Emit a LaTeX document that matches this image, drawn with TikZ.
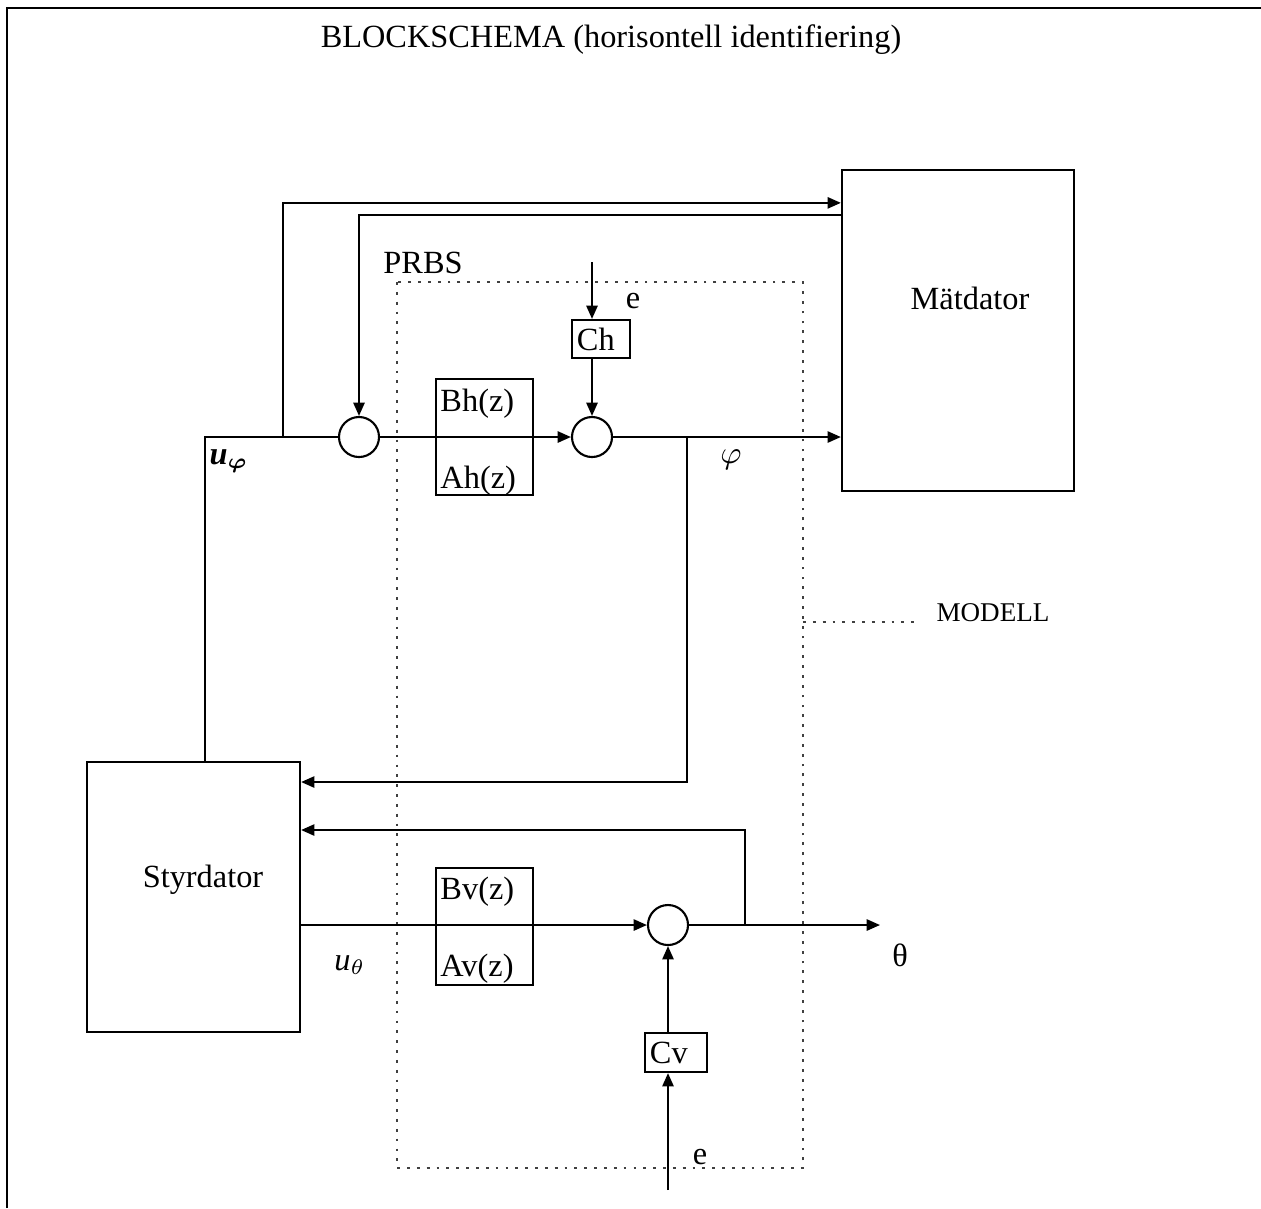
\documentclass[tikz,border=0pt]{standalone}
\usepackage{amsmath}
\usepackage{fontspec}
\setmainfont{Liberation Serif}
\usetikzlibrary{arrows.meta, positioning, calc}

\begin{document}
\begin{tikzpicture}[x=0.01cm, y=-0.01cm, line width=0.6pt,
                    font=\fontsize{9.2}{11}\selectfont,
                    >={Triangle[length=3.8pt,width=3.2pt]},
                    block/.style={draw, inner sep=0pt},
                    smallbox/.style={draw, inner ysep=0pt, inner xsep=0.05cm, minimum height=0.38cm, text width=0.48cm},
                    sumnode/.style={draw, circle, minimum size=0.4cm, inner sep=0pt},
                    lbl/.style={inner sep=1pt}]
                    \useasboundingbox (0,0) rectangle (1261,1208);
                    \draw (7,1208) -- (7,8) -- (1261,8);
                    \node[lbl] (title) at (611,40) {BLOCKSCHEMA (horisontell identifiering)};

                    \draw[dotted, line width=0.8pt, color=black!75] (397,282) rectangle (803,1168);
                    \draw[dotted, line width=0.8pt, color=black!75] (803,622) -- (915,622);
                    \node[lbl, font=\fontsize{7.7}{9}\selectfont] (modell) at (993,613) {MODELL};
                    \node[lbl] (prbs) at (423,263) {PRBS};

                    \node[block, minimum width=2.32cm, minimum height=3.21cm] (mat) at (958,330.5) {};
                    \node[lbl] (matlbl) at (970,298) {Mätdator};
                    \node[block, minimum width=2.13cm, minimum height=2.70cm] (sty) at (193.5,897) {};
                    \node[lbl] (stylbl) at (203,880) {Styrdator};

                    \node[sumnode] (s1) at (359,437) {};
                    \node[sumnode] (s2) at (592,437) {};
                    \node[sumnode] (s3) at (668,925) {};

                    \node[block, minimum width=0.97cm, minimum height=1.16cm] (gh) at (484.5,437) {};
                    \node[lbl, anchor=west] (ghb) at ($(gh.north west)+(1,26)$) {Bh(z)};
                    \node[lbl, anchor=west] (gha) at ($(gh.south west)+(1,-15)$) {Ah(z)};
                    \node[block, minimum width=0.97cm, minimum height=1.17cm] (gv) at (484.5,926.5) {};
                    \node[lbl, anchor=west] (gvb) at ($(gv.north west)+(1,25)$) {Bv(z)};
                    \node[lbl, anchor=west] (gva) at ($(gv.south west)+(1,-17)$) {Av(z)};

                    \node[smallbox] (ch) at (601,339) {Ch};
                    \node[smallbox, minimum height=0.39cm, text width=0.52cm] (cv) at (676,1052.5) {Cv};

                    \coordinate (up) at (205,437);
                    \coordinate (b1) at (283,437);
                    \coordinate (b2) at (687,437);
                    \coordinate (b2d) at (687,782);
                    \coordinate (b3) at (745,925);
                    \coordinate (b3u) at (745,830);
                    \coordinate (e1) at (592,262);
                    \coordinate (e2) at (668,1190);
                    \coordinate (th) at (880,925);

                    \draw (up |- sty.north) -- (up) -- (s1.west);
                    \draw[->] (b1) |- ($(mat.north west)+(0,34)$);
                    \draw[->] ($(mat.north west)+(0,46)$) -| (s1.north);
                    \draw[->] (s1.east) -- (s2.west);
                    \draw[->] (e1) -- (e1 |- ch.north);
                    \draw[->] (ch.south -| s2) -- (s2.north);
                    \draw[->] (s2.east) -- (s2.east -| mat.west);
                    \draw[->] (b2) -- (b2d) -- (b2d -| sty.east);

                    \draw[->] (sty.east |- s3) -- (s3.west);
                    \draw[->] (s3.east) -- (th);
                    \draw[->] (b3) -- (b3u) -- (b3u -| sty.east);
                    \draw[->] (e2) -- (e2 |- cv.south);
                    \draw[->] (cv.north -| s3) -- (s3.south);

                    \node[lbl] (elbl1) at (633,301) {e};
                    \node[lbl] (elbl2) at (700,1157) {e};
                    \node[lbl] (phi) at (731,460) {$\varphi$};
                    \node[lbl] (uphi) at (229,461) {\textbf{\textit{u}}$_{\boldsymbol{\varphi}}$};
                    \node[lbl] (uth) at (350,965) {\textit{u}$_{\theta}$};
                    \node[lbl] (theta) at (900,955) {θ};
                \end{tikzpicture}
\end{document}
